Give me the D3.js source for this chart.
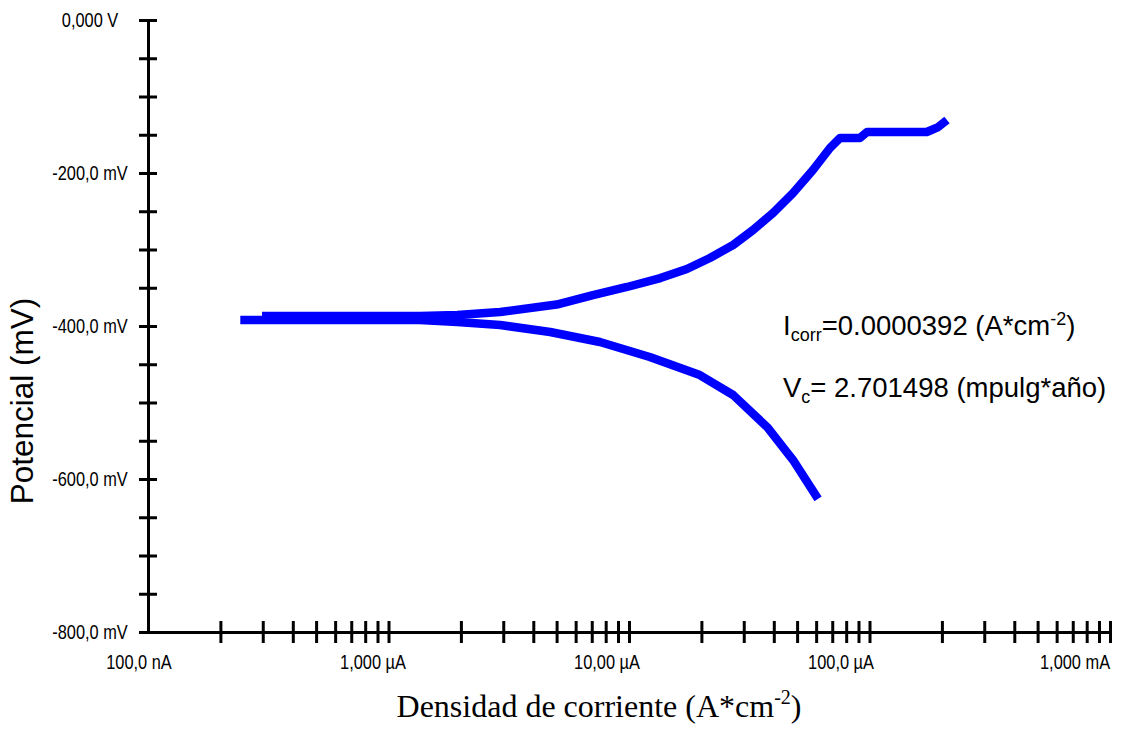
<!DOCTYPE html>
<html>
<head>
<meta charset="utf-8">
<script src="https://cdn.jsdelivr.net/npm/d3@7.9.0/dist/d3.min.js"></script>
<style>
  html, body { margin: 0; padding: 0; background: #fff; }
  svg { display: block; }
  .tick-label { font-family: 'Liberation Sans Narrow', 'Arial Narrow', 'Liberation Sans', Arial, sans-serif; font-size: 21px; fill: #000; }
  .axis path, .axis line { stroke: #000; stroke-width: 3; }
  .note { font-family: 'Liberation Sans', Arial, sans-serif; font-size: 27.5px; fill: #000; }
</style>
</head>
<body>
<div id="chart"></div>
<script>
// ---------------------- Data ----------------------
// current density (A*cm-2) and potential (mV)
const anodicI = [2.98e-7, 6.3e-7, 1.35e-6, 1.93e-6, 2.91e-6, 5.0e-6, 7.08e-6, 9.81e-6, 1.35e-5, 1.74e-5,
  2.17e-5, 2.71e-5, 3.28e-5, 3.97e-5, 4.81e-5, 5.82e-5, 6.85e-5, 7.54e-5, 9.12e-5, 9.77e-5, 1.73e-4, 1.93e-4, 2.10e-4];
const anodicE = [-387, -387, -387, -385.6, -381.7, -372, -359.5, -349, -337.3, -325.5,
  -311.1, -294.1, -274.5, -252.3, -226.1, -196.1, -167.3, -154.2, -154.2, -146.4, -146.4, -139.9, -130.7];

const cathodicI = [2.42e-7, 6.3e-7, 1.35e-6, 1.93e-6, 2.91e-6, 4.70e-6, 7.57e-6, 1.22e-5, 1.97e-5, 2.71e-5, 3.75e-5, 4.81e-5, 6.11e-5];
const cathodicE = [-392.2, -392.2, -392.2, -394.8, -398.7, -407.8, -420.9, -440.5, -464.1, -490.2, -532.0, -575.2, -626];

const yMajor = [0, -200, -400, -600, -800];
const yLabels = ['0,000 V', '-200,0 mV', '-400,0 mV', '-600,0 mV', '-800,0 mV'];
const yMinor = d3.range(0, -801, -50);

const xMajor = [1e-7, 1e-6, 1e-5, 1e-4, 1e-3];
const xLabels = ['100,0 nA', '1,000 \u00b5A', '10,00 \u00b5A', '100,0 \u00b5A', '1,000 mA'];
const xMinor = [1e-7, 1e-6, 1e-5, 1e-4].flatMap(d => d3.range(2, 11).map(k => k * d));

// ---------------------- Chart ----------------------
const width = 1144, height = 730;
const svg = d3.select('#chart').append('svg')
  .attr('width', width).attr('height', height);

const x = d3.scaleLog().domain([1e-7, 1e-3]).range([148, 1110]);
const y = d3.scaleLinear().domain([-800, 0]).range([632, 20]);

// axes: ticks cross the axis line, so draw each side
const yAxisG = svg.append('g').attr('class', 'axis').attr('transform', 'translate(148,0)');
yAxisG.call(d3.axisLeft(y).tickValues(yMinor).tickSize(9).tickSizeOuter(0).tickFormat(''));
yAxisG.append('g').call(d3.axisRight(y).tickValues(yMinor).tickSize(9).tickSizeOuter(0).tickFormat(''))
  .select('.domain').remove();

const xAxisG = svg.append('g').attr('class', 'axis').attr('transform', 'translate(0,632)');
xAxisG.call(d3.axisBottom(x).tickValues(xMinor).tickSize(11).tickSizeOuter(0).tickFormat(''));
xAxisG.append('g').call(d3.axisTop(x).tickValues(xMinor).tickSize(11).tickSizeOuter(0).tickFormat(''))
  .select('.domain').remove();
svg.selectAll('.axis .domain').attr('stroke-linecap', 'square');

// tick labels (narrow look: squeeze horizontally)
svg.append('g').selectAll('text')
  .data(yMajor)
  .join('text')
  .attr('class', 'tick-label')
  .attr('transform', d => `translate(90,${y(d)}) scale(0.78,1)`)
  .attr('dy', '0.35em')
  .attr('text-anchor', 'middle')
  .text((d, i) => yLabels[i]);

svg.append('g').selectAll('text')
  .data(xMajor)
  .join('text')
  .attr('class', 'tick-label')
  .attr('transform', d => `translate(${139 + (x(d) - 148) * 0.973},669) scale(0.78,1)`)
  .attr('text-anchor', 'middle')
  .text((d, i) => xLabels[i]);

// curves
const line = d3.line().x(d => x(d[0])).y(d => y(d[1]));
const branches = [d3.zip(cathodicI, cathodicE), d3.zip(anodicI, anodicE)];
svg.append('g').selectAll('path')
  .data(branches)
  .join('path')
  .attr('d', line)
  .attr('fill', 'none')
  .attr('stroke', '#0000ff')
  .attr('stroke-width', 8.5)
  .attr('stroke-linejoin', 'round');

// axis titles
svg.append('text')
  .attr('transform', 'translate(33,401) rotate(-90)')
  .attr('text-anchor', 'middle')
  .style('font-family', "'Liberation Sans', Arial, sans-serif")
  .style('font-size', '31.5px')
  .text('Potencial (mV)');

const xt = svg.append('text')
  .attr('x', 599).attr('y', 717)
  .attr('text-anchor', 'middle')
  .style('font-family', "'Liberation Serif', 'Times New Roman', serif")
  .style('font-size', '32px');
xt.append('tspan').text('Densidad de corriente (A*cm');
xt.append('tspan').attr('dy', -13).style('font-size', '20px').text('-2');
xt.append('tspan').attr('dy', 13).text(')');

// annotations
const n1 = svg.append('text').attr('class', 'note').attr('x', 783).attr('y', 335);
n1.append('tspan').text('I');
n1.append('tspan').attr('dy', 6).style('font-size', '18px').text('corr');
n1.append('tspan').attr('dy', -6).text('=0.0000392 (A*cm');
n1.append('tspan').attr('dy', -10).style('font-size', '18px').text('-2');
n1.append('tspan').attr('dy', 10).text(')');

const n2 = svg.append('text').attr('class', 'note').attr('x', 783).attr('y', 397);
n2.append('tspan').text('V');
n2.append('tspan').attr('dy', 6).style('font-size', '18px').text('c');
n2.append('tspan').attr('dy', -6).text('= 2.701498 (mpulg*a\u00f1o)');
</script>
</body>
</html>
